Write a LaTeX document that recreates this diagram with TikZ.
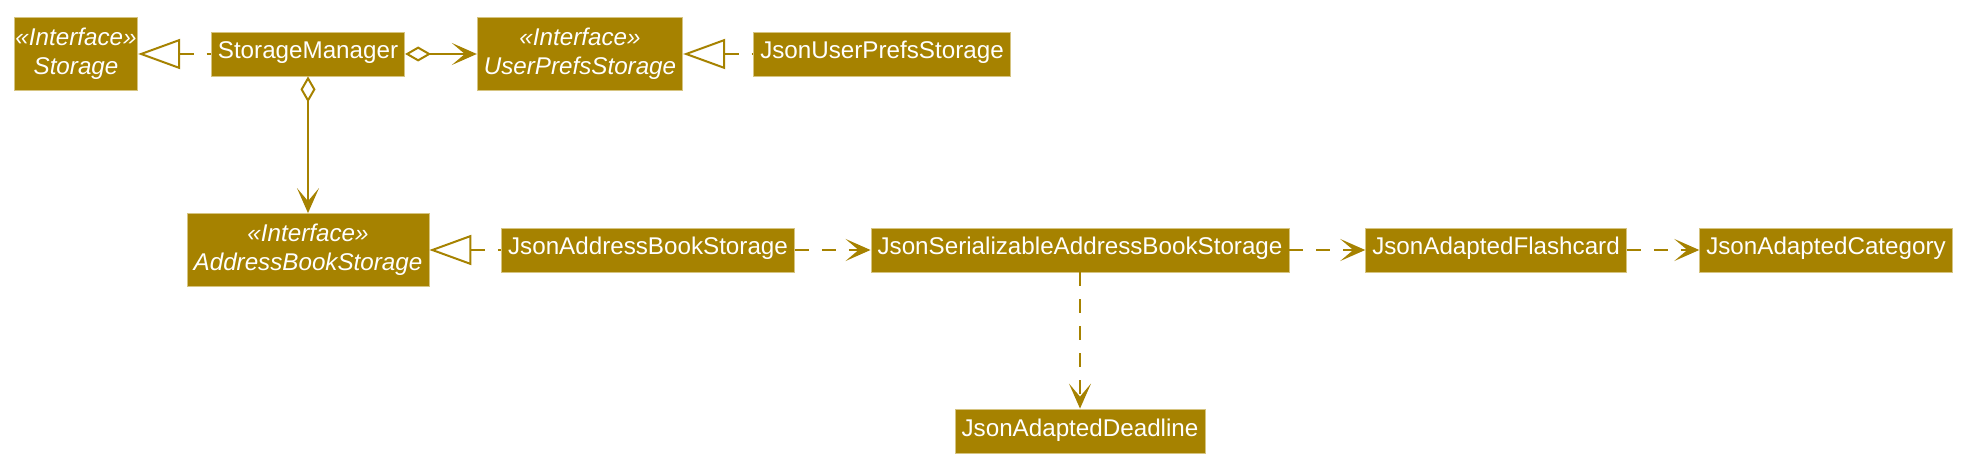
\documentclass[tikz,border=0pt]{standalone}
\usepackage{fontspec}
\setmainfont{Liberation Sans}
\usepackage{xcolor}
\usepackage{tikz}
\usetikzlibrary{arrows.meta}
\definecolor{umlGold}{RGB}{166,130,0}
\definecolor{umlRim}{RGB}{214,196,128}

\begin{document}
\begin{tikzpicture}[x=0.5pt,y=-0.5pt,
    box/.style={fill=umlGold,draw=umlRim,line width=0.4pt,text=white,
      inner xsep=3.3pt,inner ysep=0pt},
    cls/.style={box,font=\fontsize{12.1}{14.5}\selectfont,minimum height=22pt,
      text height=0.72em,text depth=0.22em},
    iface/.style={box,font=\fontsize{12.1}{14.5}\selectfont\itshape,align=center,
      minimum height=36.5pt},
    realize/.style={draw=umlGold,line width=1pt,dash pattern=on 7pt off 6.5pt,
      {Triangle[open,length=21pt,width=15pt]}-},
    aggr/.style={draw=umlGold,line width=1pt,
      {Diamond[open,length=13pt,width=7.5pt]}-{Stealth[length=12.5pt,width=11pt,inset=6.5pt]}},
    uses/.style={draw=umlGold,line width=1pt,dash pattern=on 7pt off 6.5pt,
      -{Stealth[length=12.5pt,width=11pt,inset=6.5pt]}}]
  \useasboundingbox (0,0) rectangle (1974,475);
  \newcommand{\umlclass}[4]{\node[cls] (#1) at (#2,#3) {#4};}
  \newcommand{\umliface}[5][]{\node[iface,#1] (#2) at (#3,#4) {«Interface»\\#5};}
  % top row
  \umliface[inner xsep=0.6pt]{storage}{76}{54}{Storage}
  \umlclass{mgr}{308}{54}{StorageManager}
  \umliface{uprefs}{580}{54}{UserPrefsStorage}
  \umlclass{jprefs}{882}{54}{JsonUserPrefsStorage}
  % middle row
  \umliface{abs}{308}{250}{AddressBookStorage}
  \umlclass{jabs}{648}{250}{JsonAddressBookStorage}
  \umlclass{jsabs}{1080}{250}{JsonSerializableAddressBookStorage}
  \umlclass{jflash}{1496}{250}{JsonAdaptedFlashcard}
  \umlclass{jcat}{1826}{250}{JsonAdaptedCategory}
  % bottom
  \umlclass{jdead}{1080}{431}{JsonAdaptedDeadline}
  % links
  \draw[realize] (storage) -- (mgr);
  \draw[aggr] (mgr) -- (uprefs);
  \draw[realize] (uprefs) -- (jprefs);
  \draw[aggr] (mgr) -- (abs);
  \draw[realize] (abs) -- (jabs);
  \draw[uses] (jabs) -- (jsabs);
  \draw[uses] (jsabs) -- (jflash);
  \draw[uses] (jflash) -- (jcat);
  \draw[uses] (jsabs) -- (jdead);
\end{tikzpicture}
\end{document}
